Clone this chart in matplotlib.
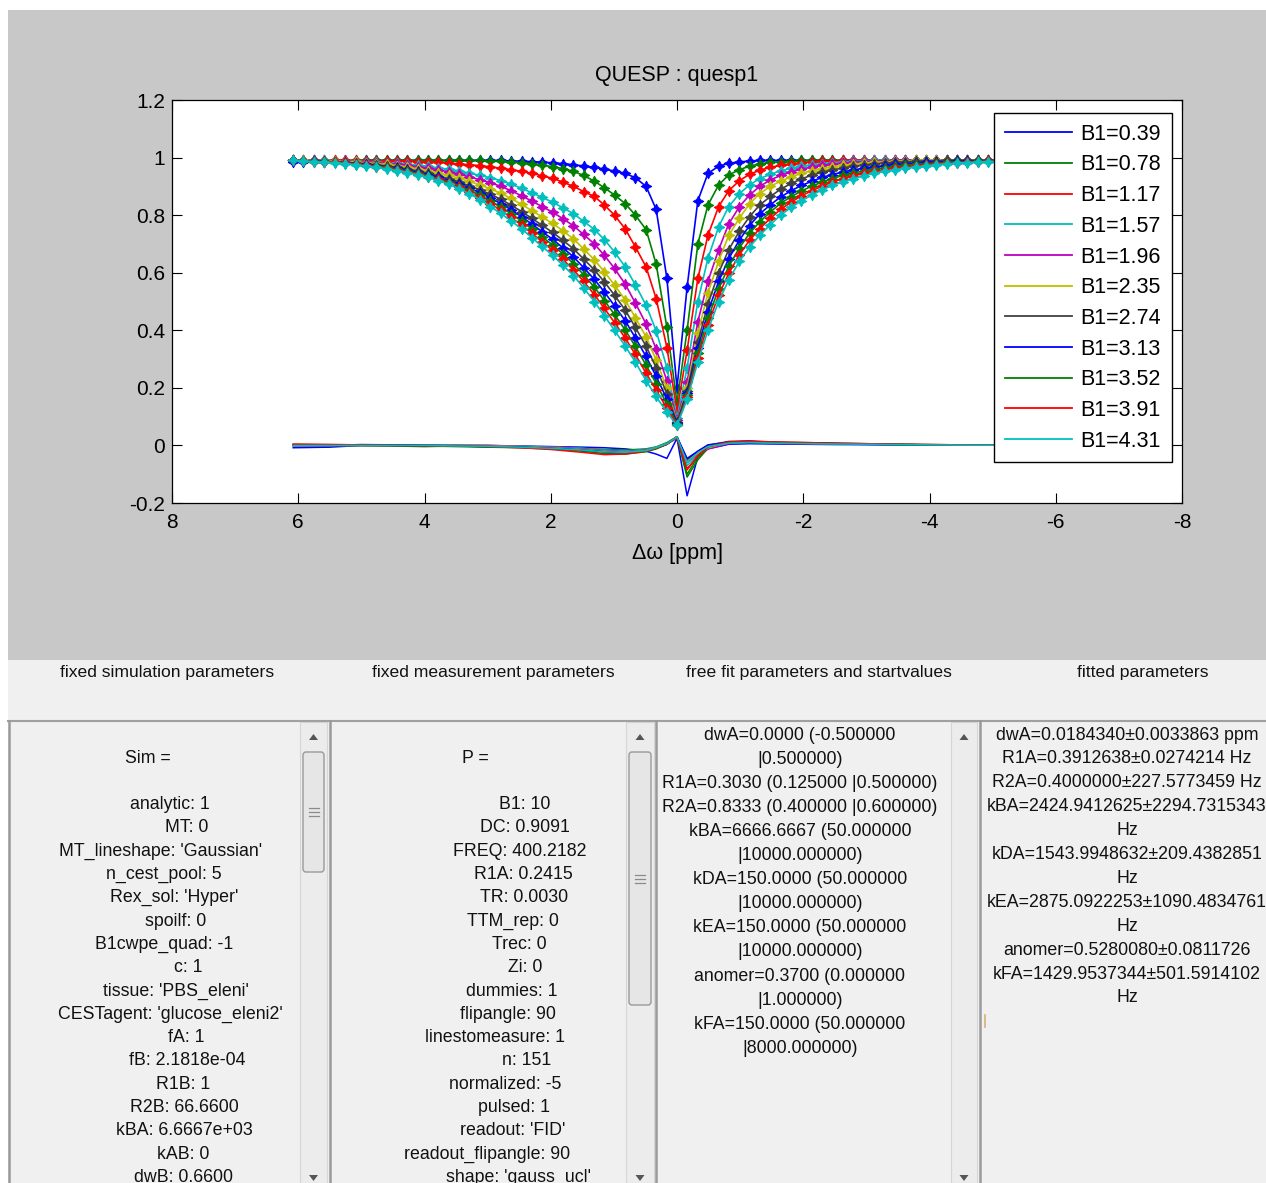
import matplotlib
matplotlib.use('Agg')
import matplotlib.pyplot as plt
from matplotlib.patches import Rectangle, Polygon, FancyBboxPatch
from matplotlib.lines import Line2D

# ---------------- data ----------------
offsets = [6.08, 5.92, 5.75, 5.59, 5.42, 5.26, 5.09, 4.93, 4.77, 4.60, 4.44, 4.27, 4.11, 3.94, 3.78,
           3.61, 3.45, 3.29, 3.12, 2.96, 2.79, 2.63, 2.46, 2.30, 2.14, 1.97, 1.81, 1.64, 1.48, 1.31,
           1.15, 0.99, 0.82, 0.66, 0.49, 0.33, 0.16, 0.00, -0.16, -0.33, -0.49, -0.66, -0.82, -0.99,
           -1.15, -1.31, -1.48, -1.64, -1.81, -1.97, -2.14, -2.30, -2.46, -2.63, -2.79, -2.96, -3.12,
           -3.29, -3.45, -3.61, -3.78, -3.94, -4.11, -4.27, -4.44, -4.60, -4.77, -4.93, -5.09, -5.26,
           -5.42, -5.59, -5.75, -5.92, -6.08]

b1_labels = ["B1=0.39", "B1=0.78", "B1=1.17", "B1=1.57", "B1=1.96", "B1=2.35",
             "B1=2.74", "B1=3.13", "B1=3.52", "B1=3.91", "B1=4.31"]

z_039 = [0.985, 0.986, 0.987, 0.988, 0.988, 0.989, 0.989, 0.990, 0.990, 0.990, 0.990, 0.990, 0.990,
         0.990, 0.990, 0.990, 0.990, 0.990, 0.990, 0.990, 0.990, 0.988, 0.987, 0.986, 0.984, 0.982,
         0.979, 0.975, 0.971, 0.966, 0.960, 0.953, 0.945, 0.930, 0.900, 0.820, 0.580, 0.200,
         0.550, 0.850, 0.945, 0.970, 0.980, 0.985, 0.988, 0.990, 0.990, 0.990, 0.990, 0.990, 0.990,
         0.990, 0.990, 0.990, 0.990, 0.990, 0.990, 0.990, 0.990, 0.990, 0.990, 0.990, 0.990, 0.990,
         0.990, 0.990, 0.990, 0.990, 0.990, 0.990, 0.990, 0.991, 0.991, 0.991, 0.991]
z_078 = [0.990, 0.990, 0.990, 0.990, 0.990, 0.990, 0.990, 0.990, 0.990, 0.990, 0.990, 0.990, 0.990,
         0.990, 0.990, 0.990, 0.990, 0.990, 0.990, 0.988, 0.987, 0.985, 0.982, 0.978, 0.974, 0.968,
         0.962, 0.952, 0.938, 0.918, 0.895, 0.870, 0.840, 0.800, 0.750, 0.630, 0.410, 0.150,
         0.400, 0.700, 0.835, 0.905, 0.940, 0.958, 0.970, 0.978, 0.983, 0.986, 0.988, 0.990, 0.990,
         0.990, 0.990, 0.990, 0.990, 0.990, 0.990, 0.990, 0.990, 0.990, 0.990, 0.990, 0.990, 0.990,
         0.990, 0.990, 0.990, 0.990, 0.990, 0.990, 0.990, 0.991, 0.991, 0.991, 0.991]
z_117 = [0.990, 0.990, 0.990, 0.990, 0.990, 0.990, 0.990, 0.989, 0.989, 0.988, 0.988, 0.988, 0.986,
         0.985, 0.983, 0.981, 0.978, 0.975, 0.972, 0.968, 0.963, 0.958, 0.952, 0.945, 0.937, 0.928,
         0.915, 0.900, 0.882, 0.865, 0.835, 0.800, 0.752, 0.690, 0.620, 0.510, 0.340, 0.120,
         0.330, 0.580, 0.730, 0.830, 0.885, 0.920, 0.942, 0.956, 0.966, 0.973, 0.978, 0.982, 0.985,
         0.987, 0.988, 0.990, 0.990, 0.990, 0.990, 0.990, 0.990, 0.990, 0.990, 0.990, 0.990, 0.990,
         0.990, 0.990, 0.990, 0.990, 0.990, 0.990, 0.990, 0.991, 0.991, 0.991, 0.991]
z_157 = [0.990, 0.990, 0.990, 0.990, 0.989, 0.988, 0.987, 0.986, 0.984, 0.982, 0.980, 0.977, 0.973,
         0.969, 0.964, 0.959, 0.953, 0.946, 0.938, 0.930, 0.920, 0.908, 0.893, 0.878, 0.862, 0.845,
         0.826, 0.805, 0.779, 0.750, 0.715, 0.672, 0.620, 0.558, 0.487, 0.398, 0.270, 0.095,
         0.270, 0.500, 0.650, 0.760, 0.830, 0.875, 0.905, 0.927, 0.942, 0.954, 0.963, 0.970, 0.975,
         0.979, 0.982, 0.985, 0.987, 0.988, 0.990, 0.990, 0.990, 0.990, 0.990, 0.990, 0.990, 0.990,
         0.990, 0.990, 0.990, 0.990, 0.990, 0.990, 0.990, 0.991, 0.991, 0.991, 0.991]
z_196 = [0.990, 0.990, 0.990, 0.989, 0.988, 0.987, 0.986, 0.984, 0.982, 0.980, 0.977, 0.973, 0.968,
         0.963, 0.957, 0.950, 0.942, 0.933, 0.923, 0.913, 0.900, 0.885, 0.867, 0.849, 0.830, 0.810,
         0.788, 0.763, 0.733, 0.700, 0.660, 0.615, 0.560, 0.495, 0.422, 0.335, 0.225, 0.088,
         0.220, 0.430, 0.570, 0.680, 0.770, 0.830, 0.870, 0.900, 0.922, 0.938, 0.950, 0.960, 0.967,
         0.973, 0.977, 0.980, 0.983, 0.985, 0.987, 0.988, 0.990, 0.990, 0.990, 0.990, 0.990, 0.990,
         0.990, 0.990, 0.990, 0.990, 0.990, 0.990, 0.990, 0.991, 0.991, 0.991, 0.991]
z_235 = [0.990, 0.990, 0.989, 0.989, 0.987, 0.986, 0.984, 0.982, 0.979, 0.976, 0.972, 0.967, 0.961,
         0.954, 0.946, 0.938, 0.928, 0.917, 0.905, 0.892, 0.876, 0.858, 0.837, 0.816, 0.794, 0.771,
         0.746, 0.717, 0.683, 0.645, 0.603, 0.557, 0.505, 0.444, 0.377, 0.297, 0.198, 0.083,
         0.200, 0.390, 0.530, 0.640, 0.730, 0.790, 0.840, 0.875, 0.900, 0.918, 0.933, 0.945, 0.955,
         0.962, 0.968, 0.973, 0.977, 0.980, 0.983, 0.985, 0.987, 0.988, 0.990, 0.990, 0.990, 0.990,
         0.990, 0.990, 0.990, 0.990, 0.990, 0.990, 0.990, 0.991, 0.991, 0.991, 0.991]
z_274 = [0.990, 0.989, 0.988, 0.987, 0.985, 0.983, 0.981, 0.978, 0.975, 0.971, 0.966, 0.960, 0.953,
         0.945, 0.936, 0.926, 0.915, 0.902, 0.888, 0.873, 0.855, 0.835, 0.812, 0.789, 0.765, 0.740,
         0.713, 0.683, 0.648, 0.610, 0.568, 0.522, 0.470, 0.410, 0.345, 0.270, 0.180, 0.080,
         0.190, 0.360, 0.490, 0.600, 0.680, 0.745, 0.795, 0.835, 0.865, 0.890, 0.910, 0.926, 0.939,
         0.949, 0.957, 0.964, 0.970, 0.974, 0.978, 0.981, 0.983, 0.985, 0.987, 0.988, 0.989, 0.990,
         0.990, 0.990, 0.990, 0.990, 0.990, 0.990, 0.990, 0.991, 0.991, 0.991, 0.991]
z_313 = [0.990, 0.989, 0.987, 0.986, 0.984, 0.982, 0.979, 0.976, 0.972, 0.968, 0.963, 0.956, 0.949,
         0.941, 0.931, 0.920, 0.908, 0.894, 0.878, 0.860, 0.840, 0.819, 0.794, 0.769, 0.743, 0.716,
         0.687, 0.655, 0.618, 0.577, 0.533, 0.485, 0.433, 0.374, 0.309, 0.240, 0.161, 0.077,
         0.181, 0.339, 0.463, 0.570, 0.649, 0.714, 0.764, 0.804, 0.836, 0.863, 0.885, 0.903, 0.918,
         0.931, 0.941, 0.950, 0.957, 0.963, 0.968, 0.972, 0.976, 0.978, 0.981, 0.983, 0.985, 0.986,
         0.987, 0.988, 0.988, 0.989, 0.989, 0.989, 0.990, 0.990, 0.990, 0.990, 0.990]
z_352 = [0.990, 0.988, 0.987, 0.985, 0.983, 0.981, 0.978, 0.974, 0.970, 0.966, 0.960, 0.953, 0.946,
         0.937, 0.927, 0.916, 0.902, 0.887, 0.869, 0.849, 0.828, 0.805, 0.779, 0.752, 0.725, 0.696,
         0.666, 0.632, 0.593, 0.550, 0.503, 0.455, 0.401, 0.344, 0.279, 0.215, 0.144, 0.075,
         0.174, 0.322, 0.441, 0.545, 0.622, 0.687, 0.737, 0.777, 0.811, 0.841, 0.864, 0.884, 0.901,
         0.915, 0.927, 0.938, 0.946, 0.954, 0.960, 0.965, 0.969, 0.973, 0.976, 0.979, 0.981, 0.983,
         0.985, 0.986, 0.987, 0.988, 0.988, 0.989, 0.989, 0.990, 0.990, 0.990, 0.990]
z_391 = [0.990, 0.988, 0.986, 0.985, 0.983, 0.980, 0.976, 0.973, 0.968, 0.963, 0.957, 0.951, 0.943,
         0.934, 0.924, 0.911, 0.897, 0.880, 0.861, 0.839, 0.817, 0.792, 0.765, 0.737, 0.708, 0.678,
         0.646, 0.610, 0.570, 0.524, 0.476, 0.427, 0.373, 0.316, 0.251, 0.192, 0.129, 0.072,
         0.167, 0.305, 0.420, 0.522, 0.598, 0.663, 0.713, 0.753, 0.789, 0.820, 0.845, 0.867, 0.885,
         0.901, 0.915, 0.927, 0.936, 0.945, 0.952, 0.958, 0.964, 0.968, 0.971, 0.975, 0.978, 0.981,
         0.982, 0.984, 0.985, 0.987, 0.988, 0.988, 0.989, 0.989, 0.990, 0.990, 0.990]
z_431 = [0.990, 0.988, 0.986, 0.984, 0.982, 0.979, 0.975, 0.971, 0.966, 0.961, 0.955, 0.948, 0.940,
         0.931, 0.920, 0.907, 0.892, 0.874, 0.854, 0.830, 0.806, 0.780, 0.752, 0.722, 0.692, 0.660,
         0.627, 0.590, 0.548, 0.500, 0.450, 0.400, 0.345, 0.290, 0.225, 0.170, 0.115, 0.070,
         0.160, 0.290, 0.400, 0.500, 0.575, 0.640, 0.690, 0.730, 0.767, 0.800, 0.827, 0.850, 0.870,
         0.888, 0.903, 0.916, 0.927, 0.937, 0.945, 0.952, 0.958, 0.963, 0.967, 0.971, 0.975, 0.978,
         0.980, 0.982, 0.984, 0.986, 0.987, 0.988, 0.989, 0.990, 0.990, 0.991, 0.991]

res_offsets = [6.08, 5.5, 5.0, 4.5, 4.0, 3.5, 3.0, 2.5, 2.0, 1.5, 1.15, 0.82, 0.49, 0.33, 0.16, 0.0,
               -0.16, -0.33, -0.49, -0.82, -1.15, -1.5, -2.5, -3.5, -4.5, -6.08]
res_039 = [-0.008, -0.006, 0.0, 0.0, 0.0, 0.0, 0.0, -0.002, -0.004, -0.006, -0.008, -0.012, -0.020,
           -0.030, -0.045, 0.025, -0.175, -0.040, -0.012, 0.004, 0.006, 0.005, 0.003, 0.002, 0.001, 0.0]
res_078 = [0.003, 0.002, 0.0, 0.0, 0.0, 0.0, -0.002, -0.004, -0.006, -0.010, -0.014, -0.016, -0.012,
           -0.005, 0.010, 0.030, -0.110, -0.050, -0.010, 0.008, 0.010, 0.008, 0.005, 0.003, 0.001, 0.0]
res_117 = [0.004, 0.003, 0.002, 0.001, 0.0, 0.0, 0.0, -0.003, -0.006, -0.012, -0.020, -0.024, -0.018,
           -0.010, 0.005, 0.025, -0.080, -0.040, -0.010, 0.010, 0.012, 0.010, 0.006, 0.003, 0.002, 0.0]
res_157 = [0.0, 0.0, 0.0, 0.0, 0.001, 0.0, -0.001, -0.002, -0.005, -0.010, -0.016, -0.020, -0.014,
           -0.006, 0.008, 0.028, -0.070, -0.035, -0.008, 0.012, 0.012, 0.010, 0.006, 0.003, 0.001, 0.0]
res_196 = [0.0, 0.0, 0.0, 0.001, 0.0, -0.001, -0.002, -0.003, -0.006, -0.012, -0.018, -0.022, -0.016,
           -0.008, 0.006, 0.030, -0.060, -0.030, -0.012, 0.006, 0.010, 0.008, 0.005, 0.002, 0.001, 0.0]
res_235 = [0.002, 0.001, 0.0, 0.0, 0.0, -0.002, -0.003, -0.004, -0.008, -0.014, -0.020, -0.024, -0.018,
           -0.008, 0.006, 0.028, -0.055, -0.028, -0.008, 0.010, 0.012, 0.010, 0.006, 0.003, 0.002, 0.0]
res_274 = [0.0, 0.0, 0.0, -0.002, -0.004, -0.002, -0.004, -0.006, -0.010, -0.016, -0.022, -0.026, -0.020,
           -0.010, 0.004, 0.030, -0.050, -0.020, 0.0, 0.014, 0.016, 0.012, 0.008, 0.004, 0.002, 0.0]
res_313 = [0.0, 0.0, 0.003, 0.002, 0.0, -0.002, -0.004, -0.006, -0.010, -0.016, -0.022, -0.026, -0.020,
           -0.010, 0.004, 0.030, -0.045, -0.020, 0.002, 0.012, 0.014, 0.010, 0.006, 0.003, 0.001, 0.0]
res_352 = [0.0, 0.0, 0.0, 0.0, -0.002, -0.004, -0.006, -0.008, -0.012, -0.020, -0.028, -0.030, -0.022,
           -0.012, 0.004, 0.030, -0.100, -0.040, -0.005, 0.010, 0.012, 0.010, 0.006, 0.003, 0.001, 0.0]
res_391 = [0.004, 0.003, 0.002, 0.001, 0.0, -0.002, -0.004, -0.008, -0.014, -0.024, -0.032, -0.030, -0.020,
           -0.010, 0.005, 0.030, -0.085, -0.035, -0.004, 0.012, 0.014, 0.012, 0.008, 0.004, 0.002, 0.0]
res_431 = [0.0, 0.0, 0.0, 0.0, 0.0, -0.002, -0.003, -0.006, -0.010, -0.016, -0.022, -0.024, -0.018,
           -0.008, 0.006, 0.030, -0.060, -0.025, -0.004, 0.008, 0.010, 0.008, 0.005, 0.003, 0.001, 0.0]

x_ticks = [8, 6, 4, 2, 0, -2, -4, -6, -8]
x_ticklabels = ["8", "6", "4", "2", "0", "-2", "-4", "-6", "-8"]
y_ticks = [-0.2, 0, 0.2, 0.4, 0.6, 0.8, 1.0, 1.2]
y_ticklabels = ["-0.2", "0", "0.2", "0.4", "0.6", "0.8", "1", "1.2"]

header_texts = ["fixed simulation parameters", "fixed measurement parameters",
                "free fit parameters and startvalues", "fitted parameters"]
sim_lines = ["Sim =", "", "analytic: 1", "MT: 0", "MT_lineshape: 'Gaussian'", "n_cest_pool: 5",
             "Rex_sol: 'Hyper'", "spoilf: 0", "B1cwpe_quad: -1", "c: 1", "tissue: 'PBS_eleni'",
             "CESTagent: 'glucose_eleni2'", "fA: 1", "fB: 2.1818e-04", "R1B: 1", "R2B: 66.6600",
             "kBA: 6.6667e+03", "kAB: 0", "dwB: 0.6600"]
p_lines = ["P =", "", "B1: 10", "DC: 0.9091", "FREQ: 400.2182", "R1A: 0.2415", "TR: 0.0030",
           "TTM_rep: 0", "Trec: 0", "Zi: 0", "dummies: 1", "flipangle: 90", "linestomeasure: 1",
           "n: 151", "normalized: -5", "pulsed: 1", "readout: 'FID'", "readout_flipangle: 90",
           "shape: 'gauss_ucl'"]
free_lines = ["dwA=0.0000 (-0.500000", "|0.500000)", "R1A=0.3030 (0.125000 |0.500000)",
              "R2A=0.8333 (0.400000 |0.600000)", "kBA=6666.6667 (50.000000", "|10000.000000)",
              "kDA=150.0000 (50.000000", "|10000.000000)", "kEA=150.0000 (50.000000", "|10000.000000)",
              "anomer=0.3700 (0.000000", "|1.000000)", "kFA=150.0000 (50.000000", "|8000.000000)"]
fitted_lines = ["dwA=0.0184340\u00b10.0033863 ppm", "R1A=0.3912638\u00b10.0274214 Hz",
                "R2A=0.4000000\u00b1227.5773459 Hz", "kBA=2424.9412625\u00b12294.7315343", "Hz",
                "kDA=1543.9948632\u00b1209.4382851", "Hz", "kEA=2875.0922253\u00b11090.4834761", "Hz",
                "anomer=0.5280080\u00b10.0811726", "kFA=1429.9537344\u00b1501.5914102", "Hz"]

# ---------------- layout / style ----------------
W, H = 1266, 1183
colors = ['#0000ff', '#008000', '#ff0000', '#00bfbf', '#bf00bf', '#bfbf00',
          '#404040', '#0000ff', '#008000', '#ff0000', '#00bfbf']
FONT = 'Liberation Sans'
plt.rcParams['font.family'] = [FONT, 'DejaVu Sans']

fig = plt.figure(figsize=(W / 100, H / 100), dpi=100)
fig.patch.set_facecolor('white')

bg = fig.add_axes([0, 0, 1, 1])
bg.set_xlim(0, W)
bg.set_ylim(H, 0)
bg.axis('off')

# gray figure area and light gui area
bg.add_patch(Rectangle((8, 10), W - 8, 650, facecolor='#c8c8c8', edgecolor='none'))
bg.add_patch(Rectangle((8, 660), W - 8, H - 660, facecolor='#f0f0f0', edgecolor='none'))

# headers
for txt, cx in zip(header_texts, [167, 493, 819, 1143]):
    bg.text(cx, 672, txt, ha='center', va='center', fontsize=12.6, color='#111111', family=FONT)

# panel borders
bg.plot([8, W], [721, 721], color='#a0a0a0', lw=1.5)
for xb in [8.5, 329.5, 655.5, 979.5]:
    bg.plot([xb, xb], [721, H], color='#9a9a9a', lw=1.8)

# scrollbars
def scrollbar(x0, x1, thumb=None):
    bg.add_patch(Rectangle((x0, 722), x1 - x0, H - 722, facecolor='#ececec', edgecolor='#d6d6d6', lw=0.8))
    cx = (x0 + x1) / 2
    bg.add_patch(Polygon([[cx - 4.5, 740], [cx + 4.5, 740], [cx, 734]], closed=True,
                         facecolor='#555555', edgecolor='none'))
    bg.add_patch(Polygon([[cx - 4.5, 1175], [cx + 4.5, 1175], [cx, 1181]], closed=True,
                         facecolor='#555555', edgecolor='none'))
    if thumb is not None:
        t0, t1 = thumb
        bg.add_patch(FancyBboxPatch((x0 + 3, t0), x1 - x0 - 6, t1 - t0,
                                    boxstyle='round,pad=0,rounding_size=3',
                                    facecolor='#e6e6e6', edgecolor='#9a9a9a', lw=1.0))
        gm = (t0 + t1) / 2
        for dy in (-4, 0, 4):
            bg.plot([cx - 5, cx + 5], [gm + dy, gm + dy], color='#8a8a8a', lw=0.9)

scrollbar(300, 327, (752, 872))
scrollbar(626, 654, (752, 1005))
scrollbar(951, 977, None)

# listbox texts
sim_x = [148, 0, 170, 187, 161, 164, 174, 176, 164, 188, 176, 170, 186, 187, 183, 184, 184, 183, 183]
for i, (s, cx) in enumerate(zip(sim_lines, sim_x)):
    if s:
        bg.text(cx, 758 + i * 23.3, s, ha='center', va='center', fontsize=12.8, color='#111111', family=FONT)
p_x = [475, 0, 525, 525, 520, 523, 524, 513, 519, 525, 512, 508, 495, 527, 505, 514, 513, 487, 518]
for i, (s, cx) in enumerate(zip(p_lines, p_x)):
    if s:
        bg.text(cx, 758 + i * 23.3, s, ha='center', va='center', fontsize=12.8, color='#111111', family=FONT)
for i, s in enumerate(free_lines):
    bg.text(800, 735 + i * 24.1, s, ha='center', va='center', fontsize=12.8, color='#111111', family=FONT)
for i, s in enumerate(fitted_lines):
    bg.text(1127, 735 + i * 23.9, s, ha='center', va='center', fontsize=12.8, color='#111111', family=FONT)
bg.plot([985, 985], [1015, 1027], color='#d8b070', lw=1.2)

# ---------------- main axes ----------------
ax = fig.add_axes([172 / W, 1 - 503 / H, (1182 - 172) / W, (503 - 100) / H])
ax.set_facecolor('white')

z_all = [z_039, z_078, z_117, z_157, z_196, z_235, z_274, z_313, z_352, z_391, z_431]
r_all = [res_039, res_078, res_117, res_157, res_196, res_235, res_274, res_313, res_352, res_391, res_431]

for z, c in zip(z_all, colors):
    ax.plot(offsets, z, '-', color=c, lw=1.2, marker=(4, 1, 0), markersize=7.8,
            markeredgewidth=0.6, markeredgecolor=c, markerfacecolor=c)
for r, c in zip(r_all, colors):
    ax.plot(res_offsets, r, '-', color=c, lw=1.1)

ax.set_xlim(8, -8)
ax.set_ylim(-0.2, 1.2)
ax.set_xticks(x_ticks)
ax.set_xticklabels(x_ticklabels)
ax.set_yticks(y_ticks)
ax.set_yticklabels(y_ticklabels)
ax.tick_params(direction='in', length=7, width=0.8, top=True, right=True,
               labelsize=15, colors='black')
ax.tick_params(axis='x', pad=7)
ax.tick_params(axis='y', pad=5)
for sp in ax.spines.values():
    sp.set_linewidth(0.9)
    sp.set_color('black')
ax.set_xlabel('\u0394\u03c9 [ppm]', fontsize=15.5, labelpad=8)
ax.set_title('QUESP : quesp1', fontsize=15.5, pad=14)

handles = [Line2D([], [], color=c, lw=1.3) for c in colors]
leg = ax.legend(handles, b1_labels, loc='upper right', bbox_to_anchor=(0.990, 0.9677),
                fontsize=15.5, handlelength=3.1, handletextpad=0.4, labelspacing=0.45,
                borderpad=0.5, borderaxespad=0, frameon=True, fancybox=False,
                edgecolor='black', framealpha=1)
leg.get_frame().set_linewidth(1.0)

fig.savefig('out.png', dpi=100, facecolor=fig.get_facecolor())
